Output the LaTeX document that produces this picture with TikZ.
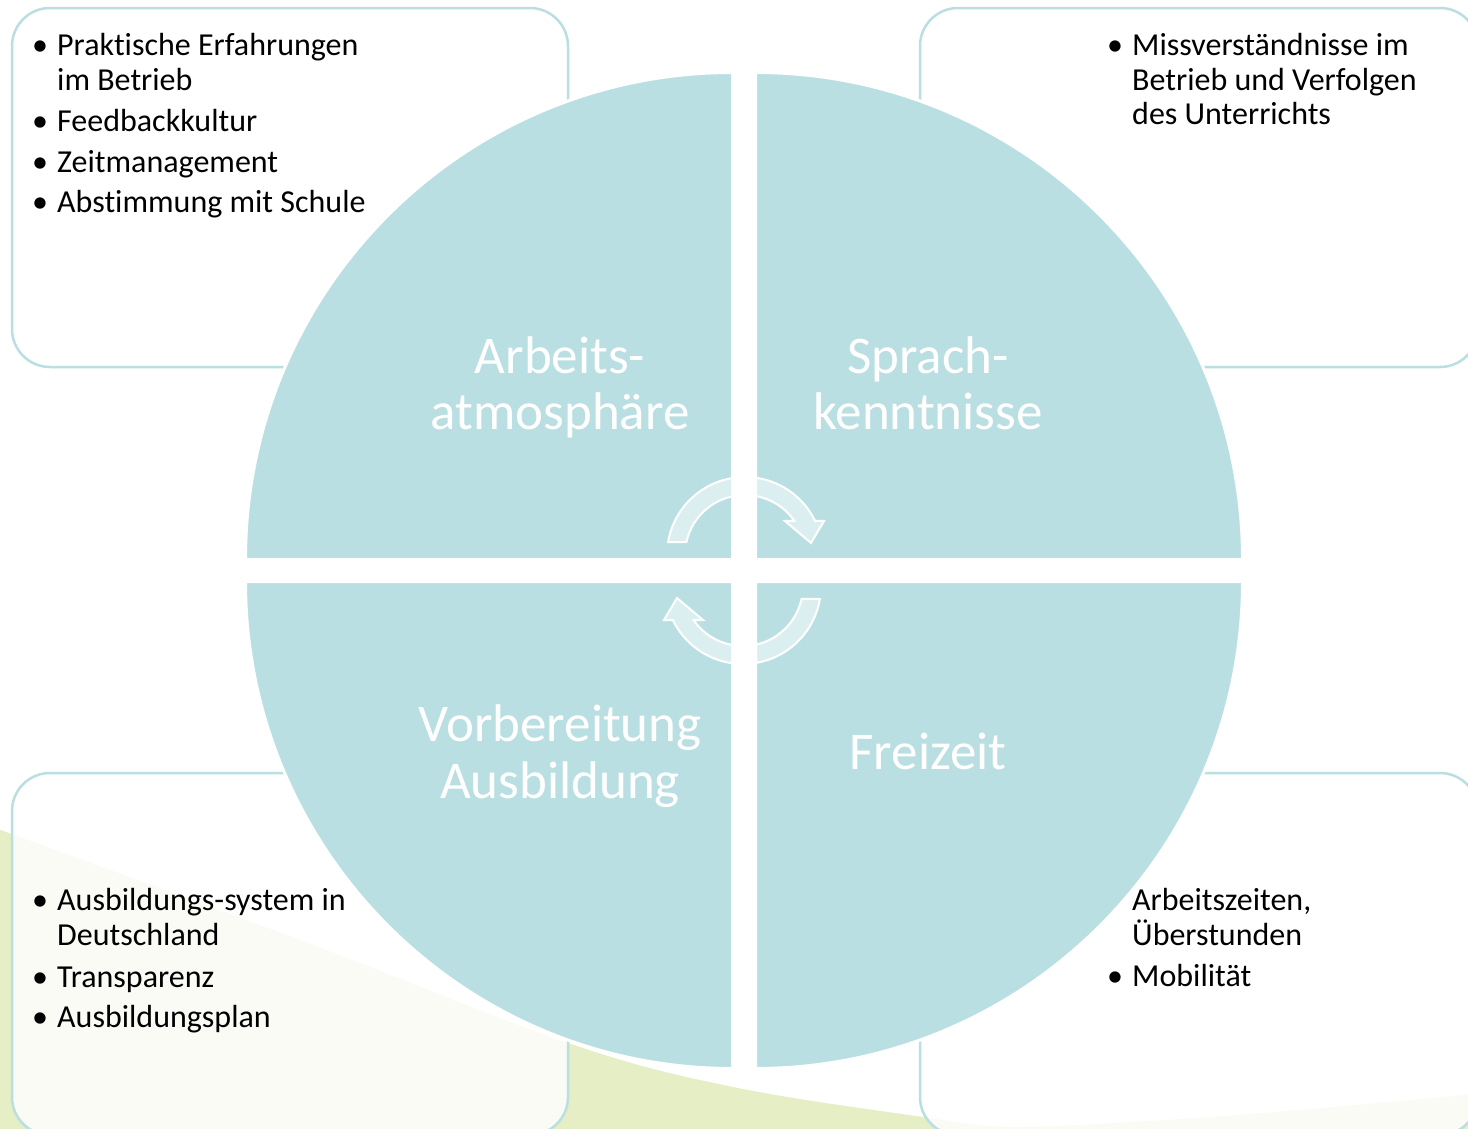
\documentclass[tikz,border=0pt]{standalone}
\usepackage{fontspec}
\setmainfont{Carlito}[Ligatures=NoCommon]
\usetikzlibrary{calc}
\definecolor{teal1}{RGB}{186,223,226}
\definecolor{green1}{RGB}{229,238,196}
\begin{document}
\begin{tikzpicture}[x=1pt,y=1pt,
  body/.style={inner sep=0pt, anchor=base west, font=\fontsize{32}{35}\selectfont, text=black},
  bul/.style={inner sep=0pt, anchor=base, font=\fontsize{32}{35}\selectfont, text=black},
  big/.style={inner sep=0pt, anchor=base, font=\fontsize{53}{57}\selectfont, text=white},
  infobox/.style={draw=teal1, line width=2.5pt, fill=white, fill opacity=0.82, rounded corners=38pt},
  quad/.style={fill=teal1, draw=white, line width=3pt},
  cyc/.style={fill=white, fill opacity=0.5, draw=white, line width=2pt, line join=miter}]
\fill[white] (0,0) rectangle (1468,-1128);
\useasboundingbox (0,0) rectangle (1468,-1128);
% green background swoosh
\fill[green1] plot[smooth, tension=0.6] coordinates {(-5,-828) (300,-940) (568,-1043) (733,-1087) (923,-1117) (1010,-1127) (1150,-1121) (1300,-1110) (1475,-1094)} -- (1475,-1140) -- (-5,-1140) -- cycle;
% boxes
\draw[infobox] (12,-8) rectangle (568,-367);
\draw[infobox] (920,-8) rectangle (1478,-367);
\draw[infobox] (12,-773) rectangle (568,-1135);
\draw[infobox] (920,-773) rectangle (1478,-1135);
% quadrants
\draw[quad] (732.5,-559.5) -- (245.5,-559.5) arc[start angle=180,end angle=90,radius=487pt] -- cycle;
\draw[quad] (755.5,-559.5) -- (1242.5,-559.5) arc[start angle=0,end angle=90,radius=487pt] -- cycle;
\draw[quad] (732.5,-581.5) -- (245.5,-581.5) arc[start angle=180,end angle=270,radius=487pt] -- cycle;
\draw[quad] (755.5,-581.5) -- (1242.5,-581.5) arc[start angle=0,end angle=-90,radius=487pt] -- cycle;
% cycle arrows
\draw[cyc] ($(745,-555)+(170.4:78pt)$) arc[start angle=170.4,end angle=25.9,radius=78pt] -- (824,-521) -- (811,-543) -- (785,-521) -- ($(745,-555)+(34.8:60pt)$) arc[start angle=34.8,end angle=167.6,radius=60pt] -- cycle;
\begin{scope}[rotate around={180:(744,-570.5)}]
\draw[cyc] ($(745,-555)+(170.4:78pt)$) arc[start angle=170.4,end angle=25.9,radius=78pt] -- (824,-521) -- (811,-543) -- (785,-521) -- ($(745,-555)+(34.8:60pt)$) arc[start angle=34.8,end angle=167.6,radius=60pt] -- cycle;
\end{scope}
% quadrant labels
\node[big] (q1a) at (560,-373) {Arbeits-};
\node[big] (q1b) at (560,-429) {atmosphäre};
\node[big] (q2a) at (928,-373) {Sprach-};
\node[big] (q2b) at (928,-429) {kenntnisse};
\node[big] (q3a) at (560,-741) {Vorbereitung};
\node[big] (q3b) at (560,-798) {Ausbildung};
\node[big] (q4a) at (928,-769) {Freizeit};
% top-left box text
\node[bul] (tlb1) at (40,-55) {•};
\node[body] (tl1) at (57,-55) {Praktische Erfahrungen};
\node[body] (tl2) at (57,-90) {im Betrieb};
\node[bul] (tlb2) at (40,-131) {•};
\node[body] (tl3) at (57,-131) {Feedbackkultur};
\node[bul] (tlb3) at (40,-172) {•};
\node[body] (tl4) at (57,-172) {Zeitmanagement};
\node[bul] (tlb4) at (40,-212) {•};
\node[body] (tl5) at (57,-212) {Abstimmung mit Schule};
% top-right box text
\node[bul] (trb1) at (1115,-55) {•};
\node[body] (tr1) at (1132,-55) {Missverständnisse im};
\node[body] (tr2) at (1132,-90) {Betrieb und Verfolgen};
\node[body] (tr3) at (1132,-124) {des Unterrichts};
% bottom-left box text
\node[bul] (blb1) at (40,-910) {•};
\node[body] (bl1) at (57,-910) {Ausbildungs-system in};
\node[body] (bl2) at (57,-945) {Deutschland};
\node[bul] (blb2) at (40,-987) {•};
\node[body] (bl3) at (57,-987) {Transparenz};
\node[bul] (blb3) at (40,-1027) {•};
\node[body] (bl4) at (57,-1027) {Ausbildungsplan};
% bottom-right box text
\node[body] (br1) at (1132,-910) {Arbeitszeiten,};
\node[body] (br2) at (1132,-945) {Überstunden};
\node[bul] (brb1) at (1115,-986) {•};
\node[body] (br3) at (1132,-986) {Mobilität};
\end{tikzpicture}
\end{document}
